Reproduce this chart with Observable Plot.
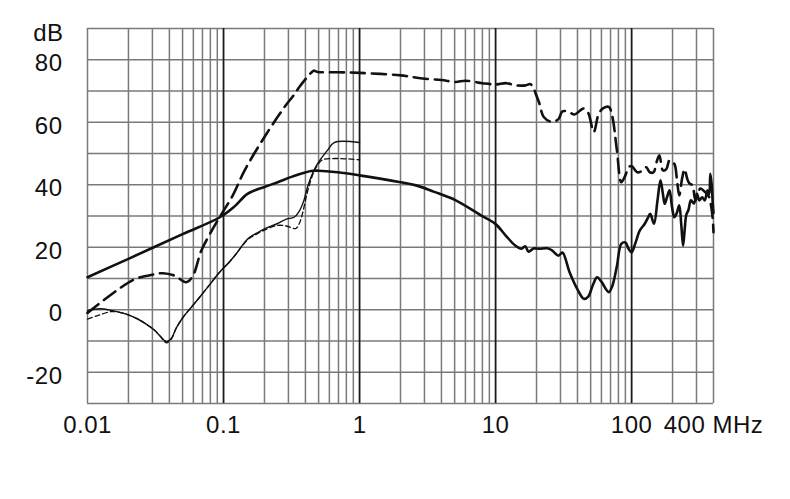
<!DOCTYPE html>
<html>
<head>
<meta charset="utf-8">
<script src="https://cdn.jsdelivr.net/npm/d3@7"></script>
<script src="https://cdn.jsdelivr.net/npm/@observablehq/plot@0.6"></script>
<style>
  html, body { margin: 0; padding: 0; background: #fff; }
  #chart svg { display: block; }
  #chart svg text { letter-spacing: 0.5px; }
</style>
</head>
<body>
<div id="chart"></div>
<script>
// ---- Data ----
const yTickValues = [80, 60, 40, 20, 0, -20];
const xTickValues = [0.01, 0.1, 1, 10, 100, 400];
const xTickLabels = ["0.01", "0.1", "1", "10", "100", "400 MHz"];
const yUnit = "dB";

// Thick solid curve
const aFreq = [0.01, 0.02, 0.05, 0.094, 0.12, 0.15, 0.2, 0.25, 0.32, 0.44, 0.5, 0.69, 1.0, 2.0, 2.6, 3.5, 5.1, 7.8, 10, 12, 14, 15.5, 16.5, 17.5, 19, 21, 24, 26, 29, 31, 35, 40, 44.5, 48, 52, 55.8, 60, 65, 68, 72, 78, 84, 90, 95, 100, 106, 115, 125, 132, 137, 146, 155, 163, 170, 175, 182, 190, 198, 206, 215, 224, 232, 239, 246, 252, 262, 273, 287, 302, 315, 330, 345, 361, 372, 379, 388, 395, 400];
const aDb   = [10.4, 16.3, 24.2, 29.6, 33, 37.1, 39.3, 40.8, 42.6, 44.4, 44.5, 44.0, 43.0, 40.8, 39.8, 37.8, 35.0, 30.2, 27.4, 23.5, 20.5, 19.5, 20.3, 18.6, 19.6, 19.5, 19.7, 19.0, 17.3, 18.3, 12, 6.5, 3.5, 4.2, 8, 10.4, 9, 6.5, 5.6, 7.5, 14, 21.1, 21.5, 19.5, 18.4, 21, 25.4, 27.5, 29.5, 30.7, 27.5, 35, 41.4, 37, 33.9, 36, 38.2, 33, 29.6, 31, 33.4, 27, 20.5, 26, 30.2, 32, 35, 34, 37.1, 35, 36.0, 35, 38.2, 37, 43.5, 40, 34, 31];

// Thick dashed curve
const bFreq = [0.01, 0.0216, 0.03, 0.0359, 0.0437, 0.0533, 0.0596, 0.0686, 0.08, 0.0935, 0.117, 0.143, 0.2, 0.281, 0.33, 0.361, 0.435, 0.46, 0.49, 0.7, 1, 2, 2.9, 4, 5.1, 6, 8, 10, 12, 14, 16.6, 18, 19, 19.7, 21, 22.6, 26, 29, 31, 34.5, 38, 44.5, 48, 52.7, 57.4, 62, 68, 72, 78, 84, 90, 95, 100, 110, 120, 128, 136, 145, 152, 160, 170, 180, 190, 206, 215, 224, 235, 245, 256, 265, 280, 295, 320, 340, 355, 372, 385, 395, 400];
const bDb   = [-1, 9.5, 11.2, 11.7, 10.9, 8.8, 10.9, 18.9, 24.5, 29.6, 36.6, 44.6, 55.3, 64.9, 68.8, 71.3, 75.6, 76.5, 76.1, 76, 75.8, 75, 74.0, 73.5, 72.9, 73.3, 72.5, 72.1, 72.5, 71.8, 71.8, 72.2, 71, 69.2, 66, 61.7, 60.1, 61, 63.5, 63.3, 62.5, 64.4, 63, 56.9, 62.8, 64.5, 64.9, 62, 51, 40.8, 43, 45.6, 46, 44, 44.5, 45.6, 44, 44, 47, 49.4, 44.6, 45, 47.8, 46.7, 42, 36.6, 42, 45, 42, 40.5, 39.8, 35, 38.8, 38, 37.2, 36, 33, 29, 24.8];

// Thin solid curve
const cFreq = [0.01, 0.0123, 0.015, 0.019, 0.023, 0.027, 0.031, 0.034, 0.038, 0.0413, 0.045, 0.0504, 0.058, 0.0667, 0.08, 0.0935, 0.11, 0.124, 0.151, 0.175, 0.2, 0.25, 0.29, 0.33, 0.36, 0.39, 0.414, 0.45, 0.49, 0.58, 0.65, 1.0];
const cDb   = [-0.3, 0.3, -0.2, -1.3, -2.8, -4.6, -6.5, -8.3, -10.2, -9.2, -5.8, -2.4, 0.8, 4, 8.3, 12, 15.2, 17.9, 22.7, 24.5, 25.9, 27.6, 29, 29.6, 31.5, 35, 39.2, 43.5, 46.7, 51, 53.5, 53.5];

// Thin dashed curve
const dFreq = [0.01, 0.012, 0.015, 0.019, 0.023, 0.027, 0.031, 0.034, 0.038, 0.0413, 0.045, 0.0504, 0.058, 0.0667, 0.08, 0.0935, 0.11, 0.124, 0.151, 0.175, 0.2, 0.25, 0.29, 0.34, 0.36, 0.38, 0.41, 0.43, 0.46, 0.49, 0.536, 1.0];
const dDb   = [-3, -1.8, -0.6, -1.3, -2.8, -4.6, -6.5, -8.3, -10.6, -9.4, -5.8, -2.4, 0.8, 4, 8.3, 12, 15.2, 17.9, 22.5, 24.2, 25.5, 27, 26.8, 26, 27.5, 30.7, 37, 40.3, 44, 46.2, 48, 48];

// ---- Build tables ----
const toRows = (fs, ds) => fs.map((f, i) => ({f, db: ds[i]}));
const curveA = toRows(aFreq, aDb);
const curveB = toRows(bFreq, bDb);
const curveC = toRows(cFreq, cDb);
const curveD = toRows(dFreq, dDb);

// Grid values
const decades = [0.01, 0.1, 1, 10, 100];
const minorGrid = [];
for (const dec of decades) for (let m = 1; m <= 9; m++) { const v = dec * m; if (v <= 400 + 1e-9) minorGrid.push(+v.toPrecision(6)); }
const majorGrid = [0.1, 1, 10, 100];
const yGrid = d3.range(-30, 91, 10);

const font = "'Liberation Sans', Arial, Helvetica, sans-serif";

const chart = Plot.plot({
  width: 790,
  height: 499,
  marginLeft: 87,
  marginRight: 77,
  marginTop: 28,
  marginBottom: 96,
  x: {type: "log", domain: [0.01, 400], axis: null},
  y: {domain: [-30, 90], axis: null},
  style: {fontFamily: font, fontSize: "24px", background: "#fff", color: "#111", overflow: "visible"},
  marks: [
    Plot.ruleY(yGrid, {y: d => d, stroke: "#7a7a7a", strokeWidth: 1.5}),
    Plot.ruleX(minorGrid, {x: d => d, stroke: "#7a7a7a", strokeWidth: 1.5}),
    Plot.ruleX(majorGrid, {x: d => d, stroke: "#1a1a1a", strokeWidth: 1.6}),
    Plot.line(curveD, {x: "f", y: "db", stroke: "#111", strokeWidth: 1.3, strokeDasharray: "5,3", curve: "catmull-rom"}),
    Plot.line(curveC, {x: "f", y: "db", stroke: "#111", strokeWidth: 1.4, curve: "catmull-rom"}),
    Plot.line(curveB, {x: "f", y: "db", stroke: "#111", strokeWidth: 2.6, strokeDasharray: "14,7", curve: "catmull-rom"}),
    Plot.line(curveA, {x: "f", y: "db", stroke: "#111", strokeWidth: 2.6, curve: "catmull-rom"}),
    Plot.text(yTickValues, {y: d => d, frameAnchor: "left", text: d => String(d), textAnchor: "end", lineAnchor: "middle", dx: -25, dy: 4, fill: "#111", fontSize: 24}),
    Plot.text([yUnit], {frameAnchor: "top-left", text: d => d, textAnchor: "end", lineAnchor: "middle", dx: -24, dy: 5, fill: "#111", fontSize: 24}),
    Plot.text(xTickValues, {x: d => d, frameAnchor: "bottom", text: (d, i) => xTickLabels[i], lineAnchor: "middle", dy: 22, fill: "#111", fontSize: 24})
  ]
});
document.getElementById("chart").appendChild(chart);
</script>
</body>
</html>
